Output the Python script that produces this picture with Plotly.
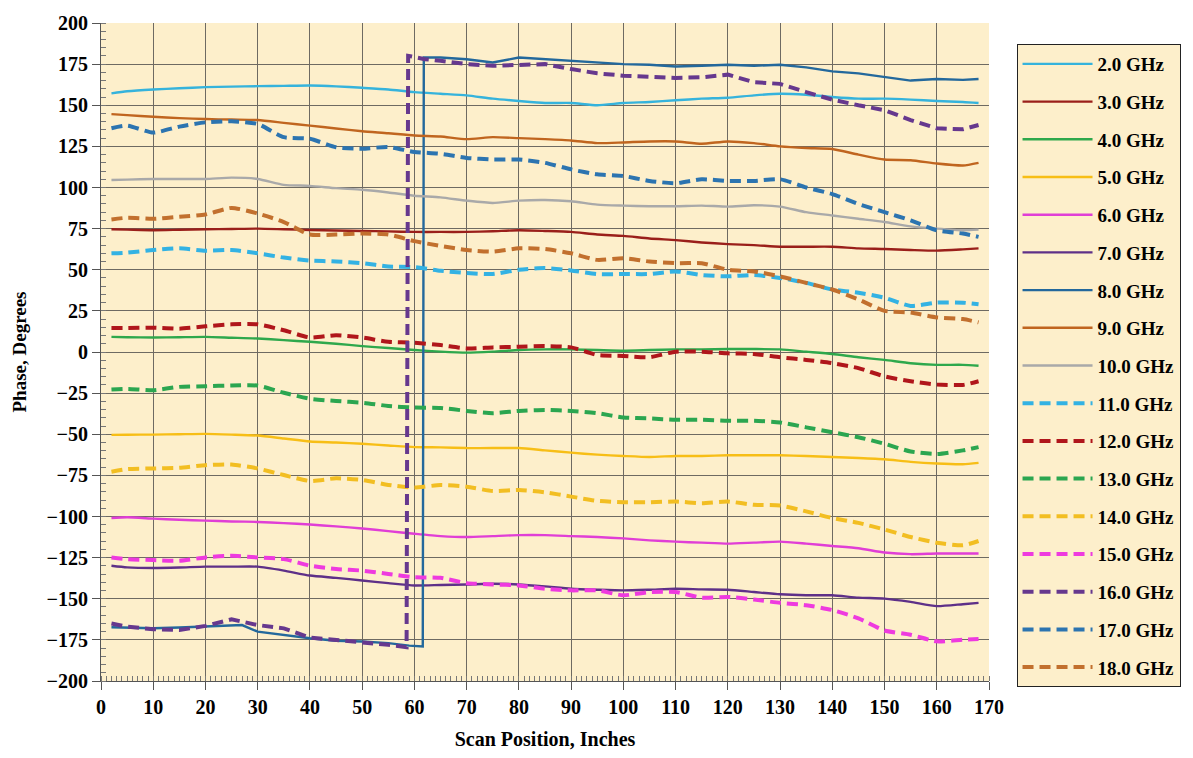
import plotly.graph_objects as go

# ---------------- data ----------------
x_common = [2, 5, 10, 15, 20, 25, 30, 35, 40, 45, 50, 55, 60, 65, 70, 75, 80, 85, 90,
            95, 100, 105, 110, 115, 120, 125, 130, 135, 140, 145, 150, 155, 160, 165, 168]

y_2ghz = [157.2, 158.5, 159.6, 160.3, 161, 161.3, 161.6, 161.8, 162, 161.5, 160.6, 159.6, 158,
          157, 156, 154, 152.6, 151.4, 151.4, 150, 151.4, 152, 153, 154, 154.6, 156, 157,
          156.4, 155, 154, 154, 153.4, 152.6, 152, 151.4]
y_3ghz = [74.6, 74.4, 74, 74.3, 74.6, 74.8, 75, 74.6, 74.2, 73.9, 73.6, 73.3, 73, 73, 73, 73.4,
          74, 73.6, 73, 71.4, 70.6, 69, 68, 66.6, 65.6, 65, 64, 64, 64, 63, 62.6, 62, 61.6,
          62.4, 63]
y_4ghz = [9.2, 9, 8.8, 9, 9.2, 8.7, 8.2, 7.2, 6.2, 5, 3.6, 2.4, 1.2, 0.2, -0.4, 0.2, 1.2, 1.6,
          1.6, 1.2, 0.8, 1.2, 1.6, 1.6, 1.8, 1.8, 1.6, 0.2, -1.2, -3.2, -4.8, -6.8, -7.8, -7.8,
          -8.4]
y_5ghz = [-50.4, -50.3, -50.2, -50, -49.8, -50.2, -50.8, -52.6, -54.4, -55, -55.8, -56.8,
          -57.8, -58, -58.4, -58.4, -58.4, -59.8, -61.2, -62.4, -63.2, -63.8, -63.2, -63.2,
          -62.8, -62.8, -62.8, -63.2, -63.8, -64.4, -65.2, -66.8, -67.8, -68.2, -67.4]
y_6ghz = [-100.9, -100.5, -101.3, -102, -102.5, -103, -103.3, -104, -104.9, -106, -107.3,
          -108.9, -110.5, -111.9, -112.5, -111.9, -111.3, -111.3, -111.9, -112.5, -113.3,
          -114.5, -115.3, -115.9, -116.5, -115.9, -115.3, -116.5, -117.9, -119.3, -121.9,
          -122.9, -122.5, -122.5, -122.5]
y_7ghz = [-129.9, -130.9, -131.3, -131, -130.5, -130.5, -130.5, -132.9, -135.9, -137.3,
          -138.9, -140.5, -141.9, -141.6, -141.3, -140.9, -141.3, -142.5, -143.9, -144.5,
          -144.9, -144.5, -143.9, -144.3, -144.5, -145.9, -147.3, -147.9, -147.9, -149.3,
          -149.9, -151.9, -154.5, -153.3, -152.5]
x_8ghz = [2, 5, 10, 15, 20, 25, 27, 30, 35, 40, 45, 50, 55, 59, 61.6, 61.8, 62.5, 65, 70, 75,
          80, 85, 90, 95, 100, 105, 110, 115, 120, 125, 130, 135, 140, 145, 150, 155, 160,
          165, 168]
y_8ghz = [-167.3, -167.6, -167.9, -167.5, -167, -166.5, -166, -170, -172, -174, -175.5,
          -176, -177, -178.5, -179, 179, 179, 179, 178, 176, 179, 178, 177, 176, 175, 174.6,
          173.6, 174, 174.6, 174, 174.6, 173, 170.6, 169.4, 167.4, 165, 166, 165.4, 166]
y_9ghz = [144.6, 144, 143, 142.2, 141.6, 141.3, 141, 139.3, 137.6, 135.9, 134.2, 133, 131.6,
          131, 129.4, 130.6, 130, 129.4, 128.6, 127, 127.4, 128, 128, 126.6, 128, 127, 125,
          124, 123.4, 120, 117, 116.6, 114.6, 113.4, 115]
y_10ghz = [104.6, 104.8, 105.2, 105.2, 105.2, 106, 105.2, 101.6, 101, 99.6, 98.6, 97, 95, 94,
           92, 90.6, 92, 92.4, 91.6, 89.6, 89, 88.6, 88.6, 89, 88.4, 89.2, 88.4, 85, 83, 81,
           79, 76.4, 75, 74, 74.4]
y_11ghz = [60, 60.4, 62, 63, 61.6, 62, 60, 57.4, 55.6, 55, 54, 52, 51.6, 49.4, 48, 47.4, 50,
           51, 49.6, 47.4, 47.4, 47.4, 49, 46.8, 46, 46.8, 45, 42, 38, 36, 33, 28, 30, 30, 29]
y_12ghz = [14.6, 14.6, 14.8, 14.2, 15.6, 16.8, 16.8, 13.2, 8.8, 10.2, 8.8, 6.2, 5.6, 4.2, 2.2,
           2.8, 3.2, 3.6, 2.8, -1.8, -2.4, -3.2, 0.2, 0.2, -0.8, -1.2, -3.2, -4.8, -6.8, -9.8,
           -14.8, -17.8, -19.8, -20, -17.8]
y_13ghz = [-22.8, -22.4, -23.2, -21.2, -20.8, -20.4, -20.4, -24.8, -28.4, -29.8, -30.8, -32.8,
           -33.8, -34, -35.8, -37.2, -35.8, -35.2, -35.8, -37.2, -39.8, -40.4, -41.2, -41.2,
           -41.8, -41.8, -42.8, -45.8, -48.8, -51.8, -55.8, -60.5, -62, -59.8, -57.8]
y_14ghz = [-72.8, -71.2, -70.8, -70.4, -68.8, -68.4, -70.8, -74.8, -78.4, -76.8, -77.8, -80.8,
           -82.4, -80.9, -81.9, -84.5, -83.9, -85.3, -87.9, -90.5, -91.3, -91.3, -90.9, -91.9,
           -90.9, -92.9, -93.3, -96.9, -100.9, -103.9, -107.9, -112.5, -115.9, -117.5, -114.9]
y_15ghz = [-124.9, -125.9, -126.5, -126.9, -124.9, -123.9, -124.9, -125.9, -129.9, -131.9,
           -132.9, -134.9, -136.9, -137.3, -140.5, -141.3, -141.9, -143.9, -144.9, -144.9,
           -147.9, -145.9, -145.9, -149.3, -148.9, -150.5, -152.5, -153.9, -156.9, -161.9,
           -169.3, -171.9, -175.9, -174.9, -174.5]
x_16ghz = [2, 5, 10, 15, 20, 25, 30, 35, 40, 45, 50, 55, 58.5, 58.8, 59.5, 62, 65, 70, 75, 80,
           85, 90, 95, 100, 105, 110, 115, 120, 125, 130, 135, 140, 145, 150, 155, 160, 165,
           168]
y_16ghz = [-165, -167, -168.5, -169, -166.5, -162.5, -166, -168, -173.6, -175, -176, -178,
           -179.5, 180, 179.6, 178, 177, 175, 174, 174.6, 175, 172, 169.4, 168, 167.4, 166.6,
           167, 168.6, 164, 163, 158, 153.4, 150, 147, 141, 136, 135.4, 138]
y_17ghz = [136, 137.6, 133.4, 137, 139.6, 140.2, 138.6, 130.6, 129.6, 124.5, 123.6, 124.6,
           121.6, 120.5, 118, 117, 117, 115, 111, 108, 107, 104, 102.6, 105, 104, 104, 105,
           100, 96, 90, 85, 80, 74, 72, 70]
y_18ghz = [80.6, 81.6, 81, 82.2, 83.6, 87.6, 84.2, 79, 71.4, 71.4, 72, 71.4, 67.4, 64.5, 62,
           61, 63, 62.6, 60, 56, 57, 55, 54, 54, 50, 49, 46, 42, 38, 32, 25, 24, 21, 20, 18]

series_names = ["2.0 GHz", "3.0 GHz", "4.0 GHz", "5.0 GHz", "6.0 GHz", "7.0 GHz", "8.0 GHz",
                "9.0 GHz", "10.0 GHz", "11.0 GHz", "12.0 GHz", "13.0 GHz", "14.0 GHz",
                "15.0 GHz", "16.0 GHz", "17.0 GHz", "18.0 GHz"]
series_x = [x_common, x_common, x_common, x_common, x_common, x_common, x_8ghz, x_common,
            x_common, x_common, x_common, x_common, x_common, x_common, x_16ghz, x_common,
            x_common]
series_y = [y_2ghz, y_3ghz, y_4ghz, y_5ghz, y_6ghz, y_7ghz, y_8ghz, y_9ghz, y_10ghz, y_11ghz,
            y_12ghz, y_13ghz, y_14ghz, y_15ghz, y_16ghz, y_17ghz, y_18ghz]

# ---------------- style ----------------
colors = ["#35B3DC", "#9A1F1A", "#2EA84C", "#F7BE16", "#E03ED6", "#5E3088", "#23689C",
          "#C0651F", "#A9A9A9", "#33B2E3", "#B0161B", "#2BA650", "#F2BE22", "#EE3ADF",
          "#66388E", "#2C74B0", "#C2702E"]
dashed = [False] * 9 + [True] * 8

FONT = "Liberation Serif, Times New Roman, serif"
BG = "#FDEFCB"
GRID = "#6E6A62"

fig = go.Figure()
for i, (name, xs, ys) in enumerate(zip(series_names, series_x, series_y)):
    jump = name in ("8.0 GHz", "16.0 GHz")
    fig.add_trace(go.Scatter(
        x=xs, y=ys, mode="lines", name=name, legendgroup=name,
        line=dict(color=colors[i], width=4 if dashed[i] else 2.4,
                  dash="11px,6px" if dashed[i] else "solid",
                  shape="linear" if jump else "spline",
                  smoothing=0.6 if not jump else None),
    ))

fig.update_layout(
    width=1193, height=758,
    margin=dict(l=101, r=203, t=19, b=73),
    paper_bgcolor="white",
    plot_bgcolor=BG,
    font=dict(family=FONT, size=20, color="black"),
    showlegend=True,
    legend=dict(
        x=1.031, y=0.968, xanchor="left", yanchor="top",
        bgcolor=BG, bordercolor="#222222", borderwidth=1,
        font=dict(family=FONT, size=19, color="black", weight="bold"),
        traceorder="grouped", tracegroupgap=10, itemwidth=70,
    ),
)

fig.update_xaxes(
    range=[0, 170], dtick=10, tick0=0,
    showgrid=True, gridcolor=GRID, gridwidth=1,
    showline=True, linecolor="#555555", linewidth=1, mirror=False,
    ticks="outside", ticklen=8, tickcolor="#555555",
    minor=dict(dtick=1, ticks="inside", ticklen=5, tickcolor="#777777", showgrid=False),
    tickfont=dict(family=FONT, size=20, color="black", weight="bold"),
    title=dict(text="Scan Position, Inches", standoff=14,
               font=dict(family=FONT, size=20, color="black", weight="bold")),
    zeroline=False,
)
fig.update_yaxes(
    range=[-200, 200], dtick=25, tick0=0,
    showgrid=True, gridcolor=GRID, gridwidth=1,
    showline=True, linecolor="#555555", linewidth=1,
    ticks="outside", ticklen=8, tickcolor="#555555",
    minor=dict(dtick=5, ticks="inside", ticklen=5, tickcolor="#777777", showgrid=False),
    tickfont=dict(family=FONT, size=20, color="black", weight="bold"),
    title=dict(text="Phase, Degrees", standoff=14,
               font=dict(family=FONT, size=19, color="black", weight="bold")),
    zeroline=False,
)

fig.write_html("out.html")
